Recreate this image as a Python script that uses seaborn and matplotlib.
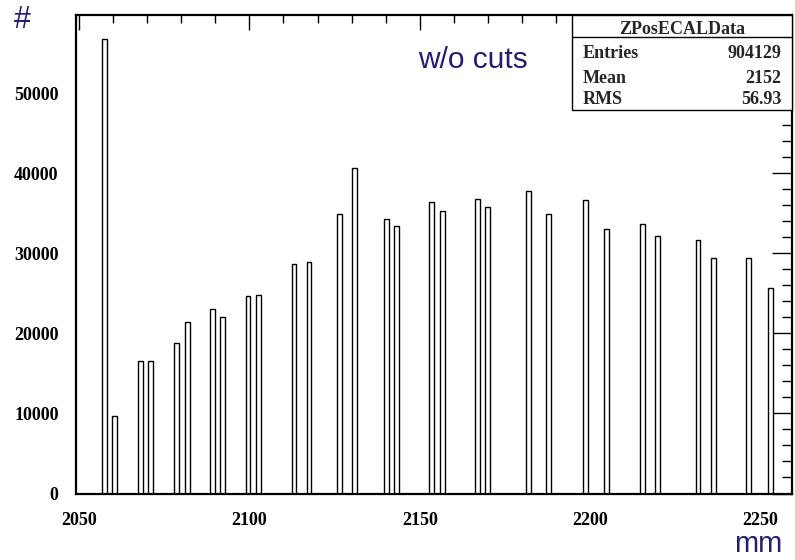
import numpy as np
import pandas as pd
import matplotlib
matplotlib.use("Agg")
import matplotlib.pyplot as plt
import seaborn as sns
from matplotlib.ticker import FixedLocator, MultipleLocator
from matplotlib.patches import Rectangle
from matplotlib.lines import Line2D

# ---- data ----
z_pos_mm = [2057.5, 2060.5, 2067.9, 2070.9, 2078.5, 2081.7, 2089.2, 2092.2,
            2099.6, 2102.6, 2113.1, 2117.5, 2126.4, 2130.9, 2140.2, 2143.2,
            2153.6, 2156.6, 2167.1, 2170.0, 2182.0, 2187.9, 2198.8, 2204.8,
            2215.3, 2219.8, 2231.7, 2236.2, 2246.6, 2253.0]
counts = [56740, 9710, 16580, 16580, 18790, 21410, 23070, 22070,
          24620, 24780, 28610, 28900, 34930, 40600, 34270, 33430,
          36430, 35270, 36770, 35770, 37800, 34930, 36590, 33030,
          33710, 32210, 31700, 29360, 29360, 25650]

x_ticks = [2050, 2100, 2150, 2200, 2250]
y_ticks = [0, 10000, 20000, 30000, 40000, 50000]
stats_title = "ZPosECALData"
stats_labels = ["Entries", "Mean", "RMS"]
stats_values = ["904129", "2152", "56.93"]
x_unit = "mm"
y_unit = "#"
note = "w/o cuts"

W, H = 795, 560
navy = "#231f6e"

sns.set_style("white")
plt.rcParams['font.family'] = ['Liberation Serif', 'DejaVu Serif']

fig = plt.figure(figsize=(W / 100, H / 100), dpi=100)
L, R, T, B = 76, 792, 15, 493.5
ax = fig.add_axes([L / W, 1 - B / H, (R - L) / W, (B - T) / H])

df = pd.DataFrame({"z": z_pos_mm, "n": counts})
min_gap = np.diff(np.sort(df["z"].values)).min()
bar_w = 1.45
sns.barplot(data=df, x="z", y="n", native_scale=True, width=bar_w / min_gap,
            color="white", saturation=1, edgecolor="black", linewidth=1.0,
            errorbar=None, ax=ax)

ax.set_xlim(2049.1, 2259.3)
ax.set_ylim(0, 59750)
ax.set_xlabel("")
ax.set_ylabel("")

ax.xaxis.set_major_locator(FixedLocator(x_ticks))
ax.xaxis.set_minor_locator(MultipleLocator(10))
ax.yaxis.set_major_locator(FixedLocator(y_ticks))
ax.yaxis.set_minor_locator(MultipleLocator(2000))
ax.set_xticklabels([str(v) for v in x_ticks])
ax.set_yticklabels([str(v) for v in y_ticks])

ax.tick_params(which="both", direction="in", top=True, right=True,
               width=1.0, color="black")
ax.tick_params(axis="x", which="major", length=11, pad=13)
ax.tick_params(axis="x", which="minor", length=5.5)
ax.tick_params(axis="y", which="major", length=14.5, pad=12.5)
ax.tick_params(axis="y", which="minor", length=7.5)
for lab in ax.get_xticklabels() + ax.get_yticklabels():
    lab.set_fontweight("bold")
    lab.set_fontsize(13)
    lab.set_color("black")

for s in ax.spines.values():
    s.set_visible(True)
    s.set_linewidth(1.6)
    s.set_color("black")

# ---- stats box ----
bx0, bx1, by0, by1, bsep = 571.7, 792, 15, 110, 37
fig.add_artist(Rectangle((bx0 / W, 1 - by1 / H), (bx1 - bx0) / W, (by1 - by0) / H,
                         transform=fig.transFigure, facecolor="white",
                         edgecolor="black", linewidth=1.0, zorder=5))
fig.add_artist(Line2D([bx0 / W, bx1 / W], [1 - bsep / H, 1 - bsep / H],
                      transform=fig.transFigure, color="black", linewidth=1.0,
                      zorder=6))
fig.text((bx0 + bx1) / 2 / W, 1 - 34.3 / H, stats_title, ha="center",
         va="baseline", fontsize=13, fontweight="bold", zorder=7)
for lab, val, yb in zip(stats_labels, stats_values, [58.3, 83.3, 104.3]):
    fig.text(582.7 / W, 1 - yb / H, lab, ha="left", va="baseline",
             fontsize=13, fontweight="bold", zorder=7)
    fig.text(781.7 / W, 1 - yb / H, val, ha="right", va="baseline",
             fontsize=13, fontweight="bold", zorder=7)

# ---- annotations ----
sans = ["Liberation Sans", "DejaVu Sans"]
fig.text(14 / W, 1 - 27.5 / H, y_unit, ha="left", va="baseline", fontsize=22,
         color=navy, family=sans)
fig.text(782 / W, 1 - 552 / H, x_unit, ha="right", va="baseline", fontsize=21,
         color=navy, family=sans)
fig.text(418 / W, 1 - 68.5 / H, note, ha="left", va="baseline", fontsize=21.5,
         color=navy, family=sans)

fig.savefig("out.png", dpi=100)
